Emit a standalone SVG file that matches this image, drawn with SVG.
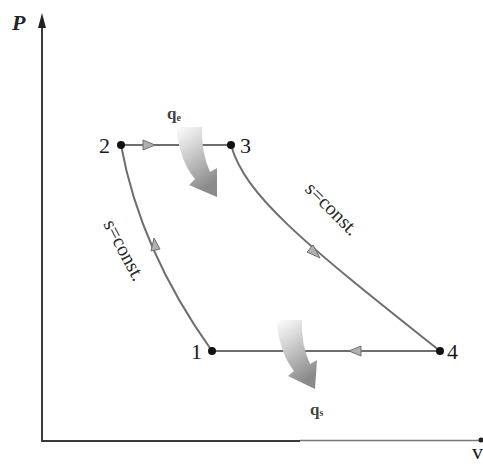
<svg xmlns="http://www.w3.org/2000/svg" width="483" height="466" viewBox="0 0 483 466">
<style>
.axis{stroke:#3a3a3a;stroke-width:2;fill:none}
.proc{stroke:#6e6e6e;stroke-width:2;fill:none}
.lbl{font-family:"Liberation Serif",serif;font-size:22px;fill:#1a1a1a}
.sc{font-family:"Liberation Serif",serif;font-size:20px;fill:#2a2a2a}
.q{font-family:"Liberation Serif",serif;font-size:17px;font-weight:bold;fill:#444}
.sub{font-size:10px}
.dot{fill:#111}
.mk{fill:#b0b0b0;stroke:#6e6e6e;stroke-width:1}
</style>
<defs>
<linearGradient id="g" x1="0" y1="0" x2="0.4" y2="1">
<stop offset="0" stop-color="#ffffff"/>
<stop offset="0.35" stop-color="#d8d8d8"/>
<stop offset="1" stop-color="#8a8a8a"/>
</linearGradient>
</defs>
<g id="axes">
<line class="axis" x1="42" y1="22" x2="42" y2="441"/>
<polygon points="42,13 38,28 46,28" fill="#222"/>
<line class="axis" x1="41" y1="441" x2="300" y2="441"/>
<line x1="300" y1="440.5" x2="483" y2="440.5" stroke="#777" stroke-width="1.5"/>
<circle cx="481" cy="440" r="2.5" fill="#222"/>
<text x="472" y="459" class="lbl" font-size="16">v</text>
<text x="12" y="30" font-family="Liberation Serif,serif" font-size="22" font-style="italic" font-weight="bold" fill="#222">P</text>
</g>
<g id="connectors">
<line class="proc" x1="121" y1="145" x2="231" y2="145"/>
<polygon class="mk" points="155,145 143,140 143,150"/>
<line class="proc" x1="212" y1="351" x2="440" y2="351"/>
<polygon class="mk" points="349,351 361,346 361,356"/>
<path class="proc" d="M121,145 Q140,250 212,351"/>
<polygon class="mk" points="154,238 151,251 160,249"/>
<path class="proc" d="M231,145 C245,195 300,240 440,351"/>
<polygon class="mk" points="320,258 307,252 313,245"/>
</g>
<g id="heat-in">
<path d="M176,127 Q180,162 195,179 L189,185 L217,197 L217,168 L210,172 Q201,152 202,127 Z" fill="url(#g)"/>
<text class="q" x="167" y="119">q<tspan class="sub" dy="2">e</tspan></text>
</g>
<g id="heat-out">
<path d="M276,320 Q280,354 294,371 L288,376 L315,389 L317,360 L310,364 Q301,345 302,320 Z" fill="url(#g)"/>
<text class="q" x="310" y="415">q<tspan class="sub" dy="1">s</tspan></text>
</g>
<g id="n1"><circle class="dot" cx="212" cy="351" r="4"/><text class="lbl" x="191" y="359">1</text></g>
<g id="n2"><circle class="dot" cx="121" cy="145" r="4"/><text class="lbl" x="99" y="153">2</text></g>
<g id="n3"><circle class="dot" cx="231" cy="145" r="4"/><text class="lbl" x="240" y="153">3</text></g>
<g id="n4"><circle class="dot" cx="440" cy="351" r="4"/><text class="lbl" x="447" y="359">4</text></g>
<g id="labels">
<text class="sc" transform="translate(103,224) rotate(62)">s=const.</text>
<text class="sc" transform="translate(304,190) rotate(45)">s=const.</text>
</g>
</svg>
